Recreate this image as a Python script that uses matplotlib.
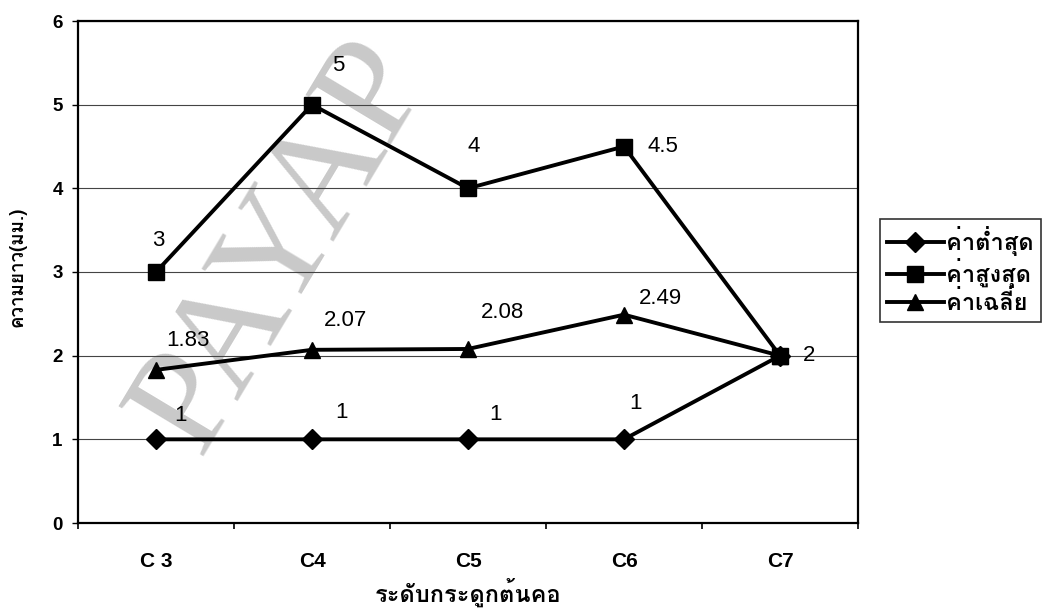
import numpy as np
import matplotlib
matplotlib.use('Agg')
import matplotlib.pyplot as plt
from matplotlib import font_manager
from matplotlib.ft2font import FT2Font

# ข้อมูลความยาวกระดูกต้นคอ
levels = ['C 3', 'C4', 'C5', 'C6', 'C7']
val_min = [1, 1, 1, 1, 2]
val_max = [3, 5, 4, 4.5, 2]
val_mean = [1.83, 2.07, 2.08, 2.49, 2]
series_names = ['ค่าต่ำสุด', 'ค่าสูงสุด', 'ค่าเฉลี่ย']
x_title = 'ระดับกระดูกต้นคอ'
y_title = 'ความยาว(มม.)'
y_ticks = [0, 1, 2, 3, 4, 5, 6]


def find_thai_font():
    # หาฟอนต์ที่มีอักษรไทย
    names = []
    for f in font_manager.fontManager.ttflist:
        try:
            if 0x0E04 in FT2Font(f.fname).get_charmap():
                names.append(f.name)
        except Exception:
            pass
    for pref in ['Loma', 'Garuda', 'Noto Sans Thai', 'Tlwg Typo', 'Kinnari']:
        if pref in names:
            return pref
    return names[0] if names else 'DejaVu Sans'


thai = find_thai_font()
num_font = 'Liberation Sans'

fig = plt.figure(figsize=(10.54, 6.09), dpi=100)
ax = fig.add_axes([78/1054, 1-523/609, (858-78)/1054, (523-21)/609])

x = np.arange(len(levels))
styles = [('D', 10), ('s', 11), ('^', 12)]
datas = [val_min, val_max, val_mean]
for d, (m, ms), name in zip(datas, styles, series_names):
    ax.plot(x, d, color='black', lw=2.8, marker=m, ms=ms, label=name, zorder=3)

# ตำแหน่งป้ายตัวเลข (offset points)
off_min = [(18, 17), (21, 19), (20, 18), (8, 26), None]
off_max = [(2, 23), (19, 28), (4, 30), (28, 0), (21, 0)]
off_mean = [(23, 21), (24, 21), (25, 26), (26, 12), None]
for d, offs in zip(datas, [off_min, off_max, off_mean]):
    for xi, v, o in zip(x, d, offs):
        if o is None:
            continue
        ax.annotate('%g' % v, (xi, v), xytext=o, textcoords='offset points',
                    ha='center', va='center', fontsize=16, family=num_font,
                    zorder=4)

ax.set_xlim(-0.5, 4.5)
ax.set_ylim(0, 6)
ax.set_yticks(y_ticks)
ax.set_xticks(x)
ax.set_xticklabels(levels, family=['Liberation Sans Narrow', 'Liberation Sans'],
                   fontsize=15, fontweight='bold')
ax.set_xticks(np.arange(-0.5, 5, 1), minor=True)
ax.tick_params(axis='x', which='major', length=0, pad=21)
ax.tick_params(axis='x', which='minor', length=4, width=1.2, direction='out')
ax.tick_params(axis='y', length=4, width=1, direction='out', pad=7)
for lab in ax.get_yticklabels():
    lab.set_family(num_font)
    lab.set_fontweight('bold')
    lab.set_fontsize(13.5)

ax.grid(axis='y', color='#444444', lw=0.8)
ax.set_axisbelow(True)
for s in ax.spines.values():
    s.set_linewidth(1.6)

ax.set_xlabel(x_title, family=thai, fontsize=17, fontweight='bold', va='center')
ax.xaxis.set_label_coords(0.5, -0.138)
ax.set_ylabel(y_title, family=thai, fontsize=13.5, fontweight='bold', va='center')
ax.yaxis.set_label_coords(-0.077, 0.51)

leg = fig.legend(loc='upper left', bbox_to_anchor=(880/1054, 1-219/609),
                 bbox_transform=fig.transFigure, borderaxespad=0,
                 frameon=True, fancybox=False, handlelength=2.4,
                 handletextpad=0.1, borderpad=0.3, labelspacing=0.1,
                 prop={'family': thai, 'size': 17, 'weight': 'bold'})
leg.get_frame().set_edgecolor('black')
leg.get_frame().set_linewidth(1.2)

# ลายน้ำ
fig.text(199/1054, 1-457/609, 'PAYAP', rotation=59,
         rotation_mode='anchor', ha='left', va='baseline',
         family='Liberation Serif', fontsize=108, color='#c9c9c9', zorder=-1)
ax.patch.set_visible(False)
fig.patch.set_facecolor('white')

fig.savefig('out.png', dpi=100)
